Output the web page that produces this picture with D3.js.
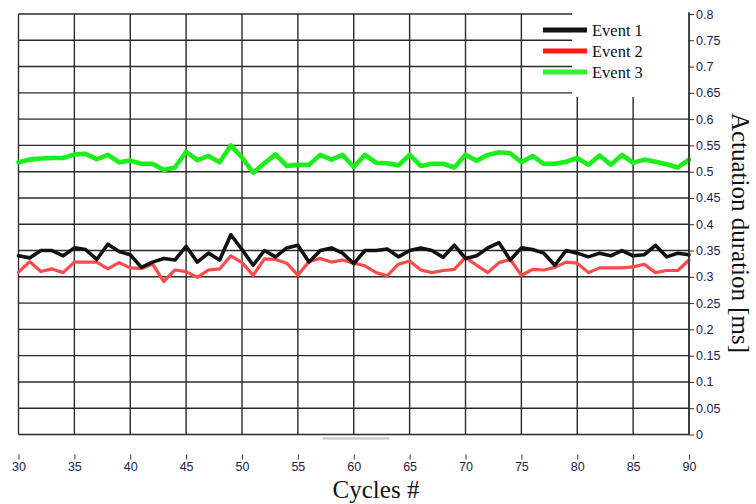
<!DOCTYPE html>
<html>
<head>
<meta charset="utf-8">
<script src="https://cdn.jsdelivr.net/npm/d3@7"></script>
<style>
  html, body { margin: 0; padding: 0; background: #fff; }
  svg { display: block; }
</style>
</head>
<body>
<svg id="chart" width="756" height="504"></svg>
<script>
// Actuation duration per cycle, three events
const cycles = d3.range(30, 91);

const event1 = [0.340, 0.336, 0.350, 0.350, 0.340, 0.355, 0.352, 0.333, 0.362, 0.348,
                0.342, 0.318, 0.328, 0.335, 0.332, 0.358, 0.328, 0.345, 0.332, 0.380,
                0.352, 0.322, 0.350, 0.338, 0.355, 0.360, 0.328, 0.350, 0.355, 0.345,
                0.325, 0.350, 0.350, 0.353, 0.338, 0.350, 0.355, 0.350, 0.337, 0.360,
                0.335, 0.340, 0.355, 0.365, 0.332, 0.355, 0.352, 0.345, 0.322, 0.350,
                0.345, 0.338, 0.345, 0.340, 0.350, 0.340, 0.342, 0.360, 0.338, 0.345,
                0.342];

const event2 = [0.309, 0.329, 0.310, 0.315, 0.308, 0.328, 0.328, 0.328, 0.315, 0.327,
                0.317, 0.316, 0.324, 0.291, 0.313, 0.310, 0.299, 0.313, 0.315, 0.340,
                0.327, 0.303, 0.334, 0.333, 0.326, 0.303, 0.329, 0.335, 0.328, 0.332,
                0.326, 0.321, 0.308, 0.302, 0.324, 0.330, 0.313, 0.308, 0.312, 0.314,
                0.337, 0.322, 0.308, 0.327, 0.333, 0.303, 0.314, 0.313, 0.318, 0.328,
                0.326, 0.308, 0.317, 0.317, 0.317, 0.319, 0.324, 0.308, 0.312, 0.312,
                0.332];

const event3 = [0.518, 0.523, 0.525, 0.526, 0.526, 0.533, 0.534, 0.524, 0.532, 0.518,
                0.521, 0.515, 0.515, 0.503, 0.508, 0.538, 0.522, 0.530, 0.518, 0.550,
                0.527, 0.498, 0.516, 0.533, 0.511, 0.513, 0.513, 0.532, 0.523, 0.532,
                0.509, 0.532, 0.517, 0.516, 0.512, 0.532, 0.511, 0.515, 0.515, 0.508,
                0.532, 0.521, 0.532, 0.537, 0.535, 0.518, 0.530, 0.515, 0.515, 0.519,
                0.526, 0.513, 0.531, 0.513, 0.532, 0.517, 0.523, 0.519, 0.514, 0.508,
                0.523];

const seriesNames = ["Event 1", "Event 2", "Event 3"];
const seriesColors = ["#111111", "#ff4a4a", "#1aef1a"];
const legendColors = ["#111111", "#ff1a1a", "#33ee33"];
const seriesWidths = [3.6, 3.2, 4.6];

const xTicks = d3.range(30, 91, 5);
const yTicks = d3.range(0, 17).map(i => +(i * 0.05).toFixed(2));

const xTitle = "Cycles #";
const yTitle = "Actuation duration [ms]";

const svg = d3.select("#chart");

const x = d3.scaleLinear().domain([30, 90]).range([18.5, 689]);
const y = d3.scaleLinear().domain([0, 0.8]).range([434.5, 14]);

const gridColor = "#2b2b2b";

// Grid: horizontal lines
svg.append("g")
  .selectAll("line")
  .data(yTicks)
  .join("line")
  .attr("x1", x(30))
  .attr("x2", x(90))
  .attr("y1", d => y(d))
  .attr("y2", d => y(d))
  .attr("stroke", gridColor)
  .attr("stroke-width", 1.4);

// Grid: vertical lines
svg.append("g")
  .selectAll("line")
  .data(xTicks)
  .join("line")
  .attr("x1", d => x(d))
  .attr("x2", d => x(d))
  .attr("y1", y(0.8))
  .attr("y2", y(0))
  .attr("stroke", gridColor)
  .attr("stroke-width", 1.4);

// Short light bar under the plot
svg.append("line")
  .attr("x1", x(57.2)).attr("x2", x(63.2))
  .attr("y1", y(0) + 4).attr("y2", y(0) + 4)
  .attr("stroke", "#c4c4c4").attr("stroke-width", 2);

// Series lines
const lineGen = d3.line()
  .x((d, i) => x(cycles[i]))
  .y(d => y(d));

const seriesData = [event1, event2, event3];
const drawOrder = [2, 1, 0];
drawOrder.forEach(k => {
  svg.append("path")
    .datum(seriesData[k])
    .attr("d", lineGen)
    .attr("fill", "none")
    .attr("stroke", seriesColors[k])
    .attr("stroke-width", seriesWidths[k])
    .attr("stroke-linejoin", "round")
    .attr("stroke-linecap", "round");
});

// Legend box
const lg = svg.append("g");
lg.append("rect")
  .attr("x", 572).attr("y", 0)
  .attr("width", x(90) - 572 - 0.7).attr("height", 97)
  .attr("fill", "#fff");
seriesNames.forEach((name, i) => {
  const cy = 30 + i * 21;
  lg.append("line")
    .attr("x1", 543).attr("x2", 587)
    .attr("y1", cy).attr("y2", cy)
    .attr("stroke", legendColors[i])
    .attr("stroke-width", 5);
  lg.append("text")
    .attr("x", 592).attr("y", cy + 5.5)
    .attr("font-family", "'Liberation Serif', 'Times New Roman', serif")
    .attr("font-size", 16.5)
    .attr("fill", "#111")
    .text(name);
});

// Right axis
const yAxis = d3.axisRight(y)
  .tickValues(yTicks)
  .tickSize(5)
  .tickPadding(2)
  .tickFormat(d => String(+d.toFixed(2)));

const ya = svg.append("g")
  .attr("transform", `translate(${x(90)},0)`)
  .call(yAxis);
ya.select(".domain").attr("stroke", "#2b2b2b").attr("stroke-width", 1.4)
  .attr("d", `M0,${y(0.8) - 2}V${y(0)}`);
ya.selectAll(".tick line").attr("stroke", "#2b2b2b").attr("stroke-width", 1);
ya.selectAll(".tick text")
  .attr("font-family", "'Liberation Sans', 'DejaVu Sans', sans-serif")
  .attr("font-size", 12.5)
  .attr("fill", "#1c1c50");

// Bottom tick labels
const xAxis = d3.axisBottom(x)
  .tickValues(xTicks)
  .tickSize(5)
  .tickPadding(3)
  .tickFormat(d3.format("d"));

const xa = svg.append("g")
  .attr("transform", `translate(0,${y(0) + 20})`)
  .call(xAxis);
xa.select(".domain").remove();
xa.selectAll(".tick line").attr("stroke", "#333").attr("stroke-width", 1);
xa.selectAll(".tick text")
  .attr("font-family", "'Liberation Sans', 'DejaVu Sans', sans-serif")
  .attr("font-size", 12.5)
  .attr("fill", "#1c1c50");

// Axis titles
svg.append("text")
  .attr("x", 376).attr("y", 498)
  .attr("text-anchor", "middle")
  .attr("font-family", "'Liberation Serif', 'Times New Roman', serif")
  .attr("font-size", 25)
  .attr("fill", "#111")
  .text(xTitle);

svg.append("text")
  .attr("transform", "translate(732,233) rotate(90)")
  .attr("text-anchor", "middle")
  .attr("font-family", "'Liberation Serif', 'Times New Roman', serif")
  .attr("font-size", 25)
  .attr("fill", "#111")
  .text(yTitle);
</script>
</body>
</html>
